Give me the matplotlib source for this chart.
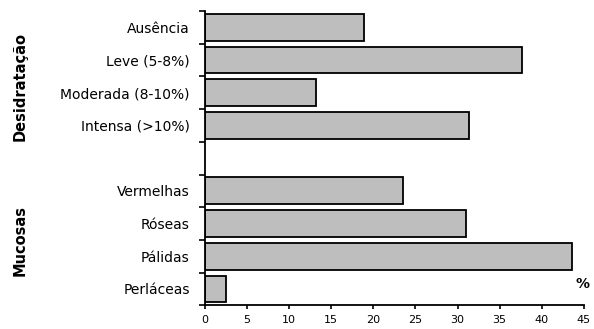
import matplotlib.pyplot as plt

# dados (%)
categorias = ["Ausência", "Leve (5-8%)", "Moderada (8-10%)", "Intensa (>10%)", "",
              "Vermelhas", "Róseas", "Pálidas", "Perláceas"]
valores = [18.9, 37.7, 13.2, 31.4, None, 23.5, 31.0, 43.6, 2.5]
grupos = ["Desidratação", "Mucosas"]
xticks = [0, 5, 10, 15, 20, 25, 30, 35, 40, 45]

plt.rcParams['font.family'] = ['DejaVu Sans']

fig = plt.figure(figsize=(5.94, 3.29), dpi=100)
ax = fig.add_axes([0.345, 0.072, 0.638, 0.8946])

for i, v in enumerate(valores):
    if v is None:
        continue
    ax.barh(i + 0.5, v, height=0.82, left=0, color='#bebebe',
            edgecolor='black', linewidth=1.3)

ax.set_xlim(0, 45)
ax.set_ylim(9, 0)

# marcas nas fronteiras, rótulos no centro
ax.set_yticks(range(10))
ax.set_yticklabels([])
ax.set_yticks([i + 0.5 for i in range(9)], minor=True)
ax.set_yticklabels(categorias, minor=True, fontsize=10)
ax.tick_params(axis='y', which='major', length=4, width=1.2, direction='out')
ax.tick_params(axis='y', which='minor', length=0, pad=11)

ax.set_xticks(xticks)
ax.set_xticklabels([str(t) for t in xticks], fontsize=8)
ax.tick_params(axis='x', length=3, width=1.2, direction='out', pad=4)

for s in ['top', 'right']:
    ax.spines[s].set_visible(False)
for s in ['left', 'bottom']:
    ax.spines[s].set_linewidth(1.3)

fig.text(0.034, 1 - 87 / 329, grupos[0], rotation=90, fontsize=10.5,
         fontweight='bold', ha='center', va='center')
fig.text(0.034, 1 - 240 / 329, grupos[1], rotation=90, fontsize=10.5,
         fontweight='bold', ha='center', va='center')
fig.text(582 / 594, 1 - 284 / 329, "%", fontsize=10, fontweight='bold',
         ha='center', va='center')

fig.savefig("out.png", dpi=100)
